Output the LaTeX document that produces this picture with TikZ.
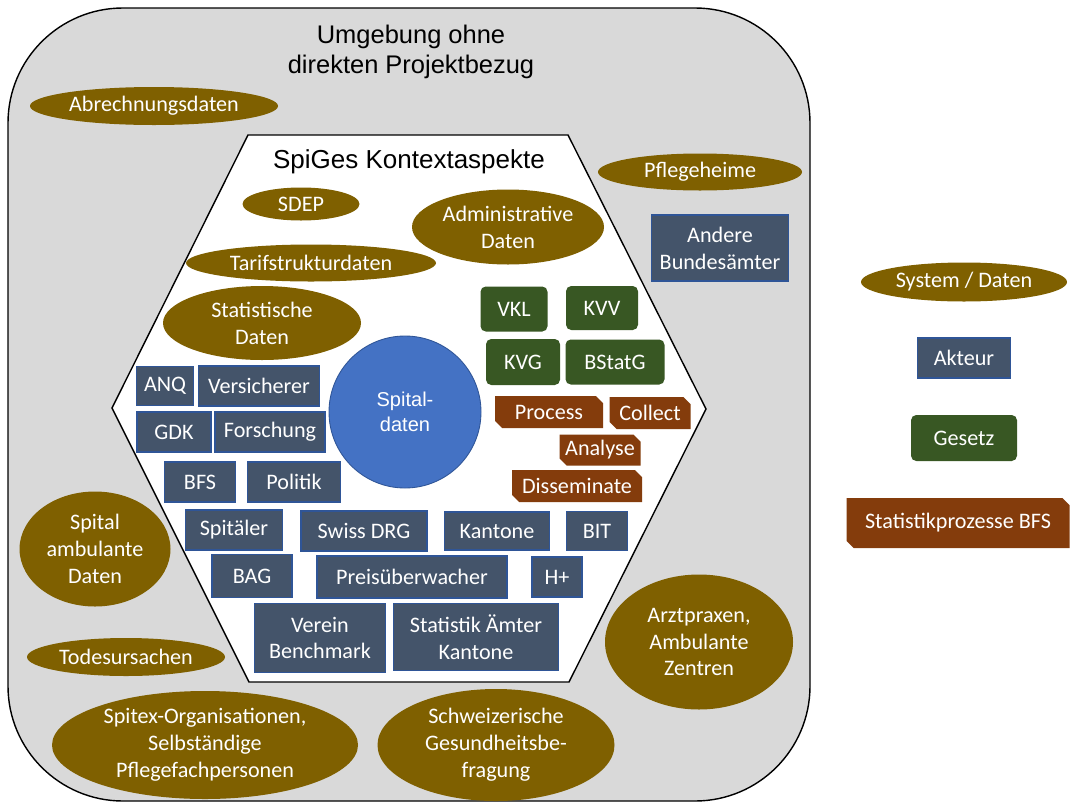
\documentclass[tikz,border=0pt]{standalone}
\usepackage{fontspec}
\setmainfont{Carlito}
\newfontfamily\arialfont{Liberation Sans}
\usetikzlibrary{shapes.geometric,shapes.misc}
\newlength{\pu}
\setlength{\pu}{0.02cm}
\definecolor{sysgold}{HTML}{7F6000}
\definecolor{aktblue}{HTML}{44546A}
\definecolor{aktline}{HTML}{2F5597}
\definecolor{gesgreen}{HTML}{385723}
\definecolor{prozbrown}{HTML}{843C0C}
\definecolor{spitalblue}{HTML}{4472C4}
\definecolor{umggray}{HTML}{D9D9D9}
\tikzstyle{lbl} = [text=white, font=\fontsize{12.6}{15.3}\selectfont, align=center, inner sep=0pt]
\tikzstyle{rand} = [draw=black, line width=0.8pt]
\tikzset{
  daten/.style 2 args={lbl, ellipse, fill=sysgold, minimum width=#1\pu, minimum height=#2\pu},
  akteur/.style 2 args={lbl, rectangle, fill=aktblue, draw=aktline, line width=0.6pt, minimum width=#1\pu, minimum height=#2\pu},
  gesetz/.style 2 args={lbl, rectangle, rounded corners=3pt, fill=gesgreen, minimum width=#1\pu, minimum height=#2\pu},
  prozess/.style 2 args={
    lbl, chamfered rectangle,
    chamfered rectangle corners={north east,south west}, % schräge Ecken wie im Original
    chamfered rectangle xsep=2pt, chamfered rectangle ysep=2pt,
    fill=prozbrown, minimum width=#1\pu, minimum height=#2\pu}
}

\begin{document}
\begin{tikzpicture}[x=0.02cm, y=-0.02cm]
  \useasboundingbox (0,0) rectangle (1071,805);
  % Umgebung
  \draw[rand, fill=umggray, rounded corners=115\pu] (8,8) rectangle (810,801);
  \node (umg)[font=\arialfont\fontsize{14.5}{17}\selectfont, align=center] at (411,52) {Umgebung ohne\\direkten Projektbezug};
  \node (abrech)[daten={248}{38}] at (154,106) {Abrechnungsdaten};
  \node (pflege)[daten={204}{37}] at (700,172) {Pflegeheime};
  \node (andere)[akteur={137}{66}] at (720,248) {Andere\\Bundesämter};
  \node (ambul)[daten={151}{115}] at (95,549) {Spital\\ambulante\\Daten};
  \node (todes)[daten={198}{38}] at (126,657) {Todesursachen};
  \node (arzt)[daten={188}{135}] at (699,642) {Arztpraxen,\\Ambulante\\Zentren};

  % SpiGes Kontext
  \draw[rand, fill=white] (248,135) -- (568,135) -- (706,409) -- (569,682) -- (249,682) -- (112,408) -- cycle;
  \node (spiges)[font=\arialfont\fontsize{14.8}{17}\selectfont] at (409,162) {SpiGes Kontextaspekte};
  \node (sdep)[daten={117}{33}] at (301,204) {SDEP};
  \node (admin)[daten={192}{75}] at (508,227) {Administrative\\Daten};
  \node (tarif)[daten={250}{37}] at (311,263) {Tarifstrukturdaten};
  \node (statdat)[daten={198}{74}] at (262,323) {Statistische\\Daten};
  \node (spital)[circle, fill=spitalblue, draw=aktline, line width=0.5pt, minimum size=152\pu, inner sep=0pt, text=white, align=center,
    font=\arialfont\fontsize{11.4}{14.5}\selectfont] at (405,412) {Spital-\\daten};

  \node (vkl)[gesetz={67}{45}] at (514,309) {VKL};
  \node (kvv)[gesetz={72}{44}] at (602,308) {KVV};
  \node (kvg)[gesetz={74}{46}] at (523,362) {KVG};
  \node (bstatg)[gesetz={99}{45}] at (615,362) {BStatG};

  \node (process)[prozess={108}{32}] at (549,412) {Process};
  \node (collect)[prozess={81}{32}] at (650,413) {Collect};
  \node (analyse)[prozess={81}{31}] at (600,450) {Analyse};
  \node (dissem)[prozess={130}{32}] at (577,486) {Disseminate};

  \node (anq)[akteur={57}{39}] at (165,386) {ANQ};
  \node (versich)[akteur={121}{40}] at (259,386) {Versicherer};
  \node (gdk)[akteur={74}{40}] at (174,432) {GDK};
  \node (forsch)[akteur={110}{40}] at (270,432) {Forschung};
  \node (bfs)[akteur={71}{40}] at (200,482) {BFS};
  \node (politik)[akteur={93}{40}] at (294,482) {Politik};
  \node (spitaeler)[akteur={97}{40}] at (234,530) {Spitäler};
  \node (swissdrg)[akteur={126}{40}] at (364,531) {Swiss DRG};
  \node (kantone)[akteur={105}{38}] at (497,531) {Kantone};
  \node (bit)[akteur={61}{39}] at (597,531) {BIT};
  \node (bag)[akteur={80}{43}] at (252,576) {BAG};
  \node (preis)[akteur={190}{42}] at (412,577) {Preisüberwacher};
  \node (hplus)[akteur={50}{40}] at (557,577) {H+};
  \node (verein)[akteur={131}{69}] at (320,638) {Verein\\Benchmark};
  \node (statamt)[akteur={165}{67}] at (476,637) {Statistik Ämter\\Kantone};

  % unten
  \node (spitex)[daten={306}{108}] at (205,745) {Spitex-Organisationen,\\Selbständige\\Pflegefachpersonen};
  \node (befrag)[daten={237}{112}] at (496,745) {Schweizerische\\Gesundheitsbe-\\fragung};

  % Legende
  \node (legsys)[daten={206}{39}] at (964,282) {System / Daten};
  \node (legakt)[akteur={93}{40}] at (964,358) {Akteur};
  \node (legges)[gesetz={106}{46}] at (964,438) {Gesetz};
  \node (legproz)[prozess={223}{50}] at (958,523) {Statistikprozesse BFS};
\end{tikzpicture}
\end{document}
